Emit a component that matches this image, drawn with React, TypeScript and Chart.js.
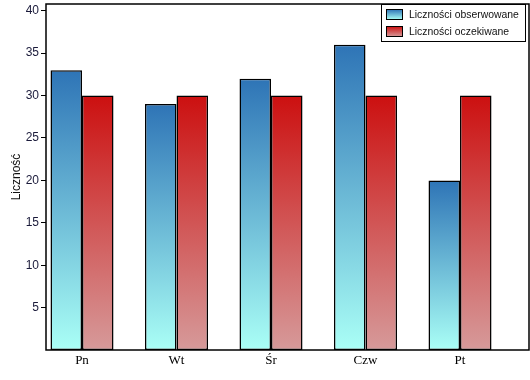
import React, { useEffect, useRef } from "react";
import { Chart, registerables } from "chart.js";

Chart.register(...registerables);

const categories = ["Pn", "Wt", "Śr", "Czw", "Pt"];
const observed = [33, 29, 32, 36, 20];
const expected = [30, 30, 30, 30, 30];
const seriesNames = ["Liczności obserwowane", "Liczności oczekiwane"];
const yTicks = [5, 10, 15, 20, 25, 30, 35, 40];
const yTitle = "Liczność";

const BLUE_TOP = "#2e74b6";
const BLUE_BOT = "#aafff6";
const RED_TOP = "#cc1010";
const RED_BOT = "#d69a9a";

function makeGrad(ctx: CanvasRenderingContext2D, top: number, bot: number, c1: string, c2: string) {
  const g = ctx.createLinearGradient(0, top, 0, bot);
  g.addColorStop(0, c1);
  g.addColorStop(1, c2);
  return g;
}

function barFill(c1: string, c2: string) {
  return (context: any) => {
    const chart = context.chart;
    if (!chart.chartArea || context.type !== "data") return c1;
    const ys = chart.scales.y;
    const v = context.parsed ? context.parsed.y : 0;
    const top = ys.getPixelForValue(v);
    const bot = ys.getPixelForValue(0);
    if (!isFinite(top) || !isFinite(bot) || bot - top < 1) return c1;
    return makeGrad(chart.ctx, top, bot, c1, c2);
  };
}

const framePlugin = {
  id: "frame",
  afterDatasetsDraw(chart: any) {
    const { ctx, chartArea } = chart;
    ctx.save();
    ctx.strokeStyle = "#000";
    ctx.lineWidth = 1.5;
    ctx.strokeRect(chartArea.left, chartArea.top, chartArea.right - chartArea.left, chartArea.bottom - chartArea.top);
    ctx.restore();
  },
};

const legendPlugin = {
  id: "boxLegend",
  afterDraw(chart: any) {
    const { ctx, chartArea } = chart;
    const right = chartArea.right - 4;
    const left = right - 144;
    const top = chartArea.top;
    const bottom = top + 37;
    ctx.save();
    ctx.fillStyle = "#fff";
    ctx.fillRect(left, top, right - left, bottom - top);
    ctx.strokeStyle = "#000";
    ctx.lineWidth = 1;
    ctx.strokeRect(left + 0.5, top + 0.5, right - left, bottom - top);
    const rows = [
      { name: seriesNames[0], c1: BLUE_TOP, c2: BLUE_BOT },
      { name: seriesNames[1], c1: RED_TOP, c2: RED_BOT },
    ];
    let size = 11;
    ctx.font = `${size}px 'Liberation Sans', Arial, sans-serif`;
    const w = ctx.measureText(seriesNames[0]).width;
    if (w > 110) size = Math.max(8, (size * 110) / w);
    rows.forEach((r, i) => {
      const sy = top + 5.5 + i * 17;
      const sx = left + 5.5;
      ctx.fillStyle = makeGrad(ctx, sy, sy + 10, r.c1, r.c2);
      ctx.fillRect(sx, sy, 16, 10);
      ctx.strokeStyle = "#000";
      ctx.strokeRect(sx, sy, 16, 10);
      ctx.fillStyle = "#111";
      ctx.font = `${size}px 'Liberation Sans', Arial, sans-serif`;
      ctx.textBaseline = "middle";
      ctx.textAlign = "left";
      ctx.fillText(r.name, left + 28, sy + 5.5);
    });
    ctx.restore();
  },
};

export default function App() {
  const ref = useRef<HTMLCanvasElement | null>(null);
  useEffect(() => {
    document.body.style.margin = "0";
    if (!ref.current) return;
    const chart = new Chart(ref.current, {
      type: "bar",
      data: {
        datasets: [
          {
            label: seriesNames[0],
            data: observed.map((v, i) => ({ x: i, y: v })),
            backgroundColor: barFill(BLUE_TOP, BLUE_BOT),
            borderColor: "#000",
            borderWidth: 1.5,
            borderSkipped: false,
          },
          {
            label: seriesNames[1],
            data: expected.map((v, i) => ({ x: i, y: v })),
            backgroundColor: barFill(RED_TOP, RED_BOT),
            borderColor: "#000",
            borderWidth: 1.5,
            borderSkipped: false,
          },
        ],
      },
      options: {
        responsive: false,
        animation: false,
        events: [],
        layout: { padding: { top: 4, right: 1, left: 0, bottom: 0 } },
        datasets: { bar: { categoryPercentage: 0.667, barPercentage: 1 } },
        plugins: { legend: { display: false }, tooltip: { enabled: false } },
        scales: {
          x: {
            type: "linear",
            min: -0.381,
            max: 4.73,
            offset: false,
            grid: { display: false, drawTicks: false },
            border: { display: false },
            afterBuildTicks: (scale: any) => {
              scale.ticks = categories.map((_, i) => ({ value: i }));
            },
            afterFit: (scale: any) => {
              scale.height = 30;
              scale.paddingLeft = 0;
              scale.paddingRight = 0;
            },
            ticks: {
              autoSkip: false,
              maxRotation: 0,
              padding: 3,
              color: "#000",
              font: { family: "'Liberation Serif', 'Times New Roman', serif", size: 13 },
              callback: (v: any) => categories[Math.round(Number(v))] ?? "",
            },
          },
          y: {
            type: "linear",
            min: 0,
            max: 40.8,
            grid: { display: true, drawOnChartArea: false, drawTicks: true, tickLength: 5, color: "#000", lineWidth: 1 },
            border: { display: false },
            afterBuildTicks: (scale: any) => {
              scale.ticks = yTicks.map((v) => ({ value: v }));
            },
            afterFit: (scale: any) => {
              scale.width = 46;
              scale.paddingTop = 0;
              scale.paddingBottom = 0;
            },
            title: {
              display: true,
              text: yTitle,
              color: "#111",
              font: { family: "'Liberation Sans', Arial, sans-serif", size: 12 },
              padding: { top: 9, bottom: 0 },
            },
            ticks: {
              padding: 2,
              color: "#1a1a3a",
              font: { family: "'Liberation Sans', Arial, sans-serif", size: 12 },
            },
          },
        },
      },
      plugins: [framePlugin, legendPlugin],
    } as any);
    return () => chart.destroy();
  }, []);
  return (
    <div style={{ width: 530, height: 380 }}>
      <canvas ref={ref} width={530} height={380} style={{ display: "block" }} />
    </div>
  );
}
